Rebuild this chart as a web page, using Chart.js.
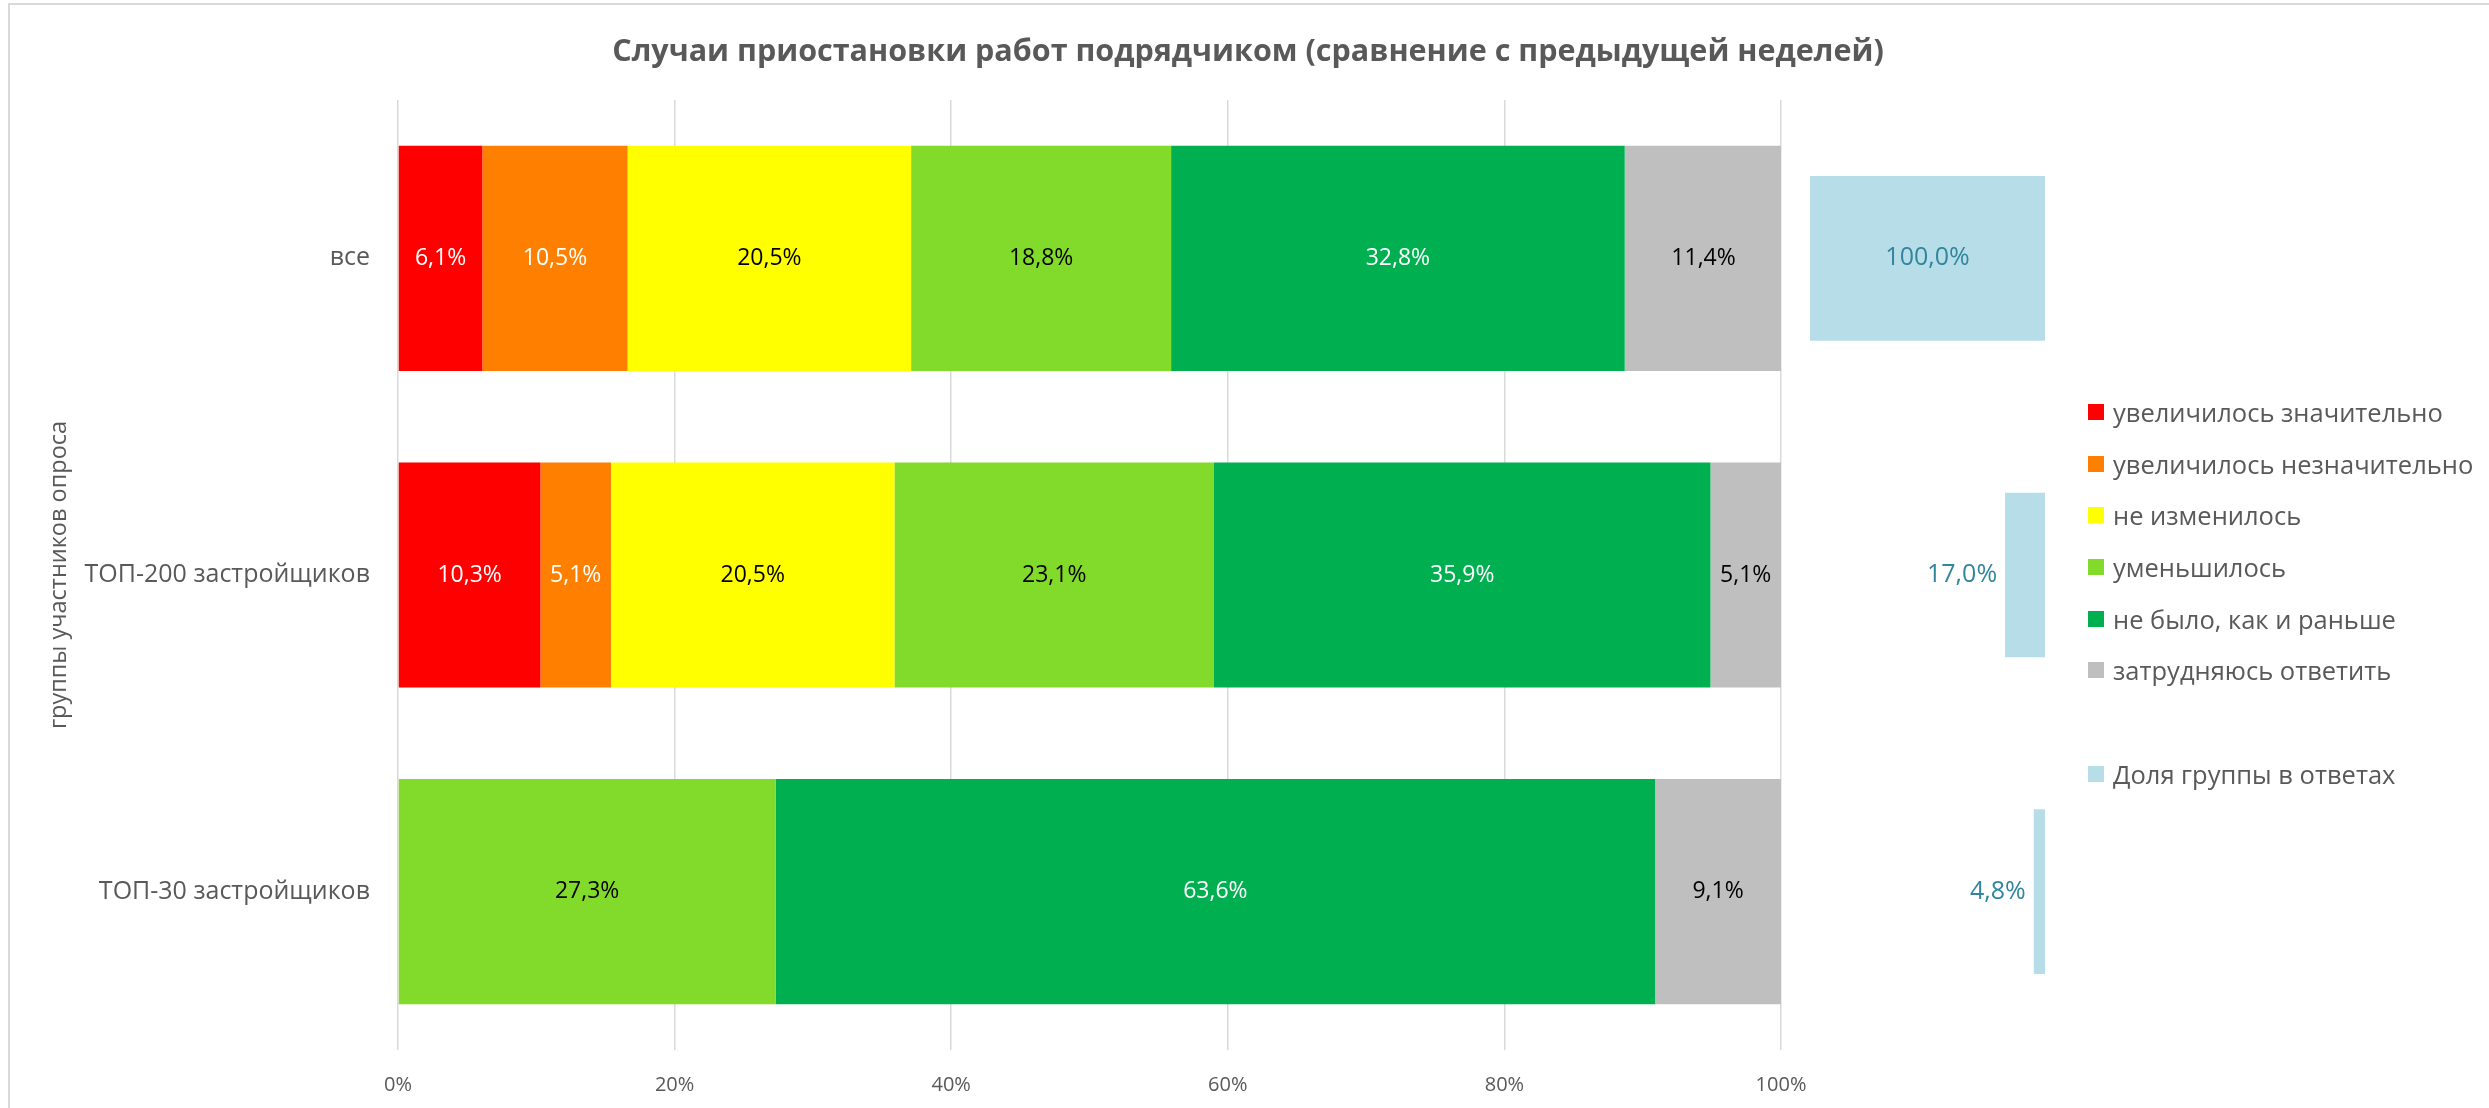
<!DOCTYPE html>
<html><head><meta charset="utf-8">
<script src="https://cdn.jsdelivr.net/npm/chart.js@4.4.1/dist/chart.umd.min.js"></script>
<style>
html,body{margin:0;padding:0;background:#fff;}
#wrap{position:relative;width:2489px;height:1108px;overflow:hidden;font-family:'Open Sans',sans-serif;background:#fff;}
#frame{position:absolute;left:8px;top:3px;width:2600px;height:1200px;border-left:2px solid #d9d9d9;border-top:2px solid #d9d9d9;}
canvas{position:absolute;left:0;top:0;}
#title{position:absolute;left:0;width:2496px;top:29px;line-height:40px;text-align:center;font-weight:700;font-size:30.5px;color:#595959;}
#legend{position:absolute;left:2088px;top:386px;}
.li{display:flex;align-items:center;height:51.7px;font-size:25.5px;color:#595959;white-space:nowrap;}
.sw{width:16px;height:16px;margin-right:9px;flex:none;}
</style></head><body>
<div id="wrap">
<div id="frame"></div>
<canvas id="c" width="2489" height="1108"></canvas>
<div id="title"></div>
<div id="legend"></div>
</div>
<script>
// ---- data ----
const titleText = 'Случаи приостановки работ подрядчиком (сравнение с предыдущей неделей)';
const axisTitle = 'группы участников опроса';
const categories = ['все', 'ТОП-200 застройщиков', 'ТОП-30 застройщиков'];
const seriesNames = ['увеличилось значительно', 'увеличилось незначительно', 'не изменилось', 'уменьшилось', 'не было, как и раньше', 'затрудняюсь ответить'];
const increasedMuch   = [6.1, 10.3, 0];
const increasedLittle = [10.5, 5.1, 0];
const unchanged       = [20.5, 20.5, 0];
const decreased       = [18.8, 23.1, 27.3];
const noneAsBefore    = [32.8, 35.9, 63.6];
const hardToSay       = [11.4, 5.1, 9.1];
const shareName = 'Доля группы в ответах';
const groupShare = [100.0, 17.0, 4.8];
const xTicks = [0, 20, 40, 60, 80, 100];

// ---- styles ----
const seriesValues = [increasedMuch, increasedLittle, unchanged, decreased, noneAsBefore, hardToSay];
const seriesColors = ['#FF0000', '#FF8000', '#FFFF00', '#82DA2A', '#00B050', '#BFBFBF'];
const labelColors  = ['#FFFFFF', '#FFFFFF', '#000000', '#000000', '#FFFFFF', '#000000'];
const shareColor = '#B7DDE8';
const shareLabelColor = '#31859C';
const textGrey = '#595959';

document.getElementById('title').textContent = titleText;

const fmt = v => v.toFixed(1).replace('.', ',') + '%';

const datasets = seriesNames.map((name, i) => ({
  label: name,
  data: seriesValues[i],
  backgroundColor: seriesColors[i],
  borderWidth: 0,
  xAxisID: 'x',
  categoryPercentage: 0.711,
  barPercentage: 1.0,
  labelColor: labelColors[i]
}));
datasets.push({
  label: shareName,
  data: groupShare,
  backgroundColor: shareColor,
  borderWidth: 0,
  xAxisID: 'x2',
  grouped: false,
  clip: false,
  categoryPercentage: 0.52,
  barPercentage: 1.0,
  isShare: true
});

const shareAxisPlugin = {
  id: 'shareAxis',
  afterLayout(chart) {
    const s = chart.scales.x2;
    s.left = 1810; s.right = 2045; s.width = 235;
    s.configure();
  }
};

const labelPlugin = {
  id: 'barLabels',
  afterDatasetsDraw(chart) {
    const ctx = chart.ctx;
    ctx.save();
    ctx.textBaseline = 'middle';
    chart.data.datasets.forEach((ds, i) => {
      const meta = chart.getDatasetMeta(i);
      meta.data.forEach((el, j) => {
        const v = ds.data[j];
        if (!v) return;
        const txt = fmt(v);
        const left = Math.min(el.x, el.base), right = Math.max(el.x, el.base);
        if (ds.isShare) {
          ctx.font = '25px "Open Sans"';
          ctx.fillStyle = shareLabelColor;
          const w = ctx.measureText(txt).width;
          if (right - left > w + 10) {
            ctx.textAlign = 'center';
            ctx.fillText(txt, (left + right) / 2, el.y);
          } else {
            ctx.textAlign = 'right';
            ctx.fillText(txt, left - 8, el.y);
          }
        } else {
          ctx.font = '23px "Open Sans"';
          ctx.fillStyle = ds.labelColor;
          ctx.textAlign = 'center';
          ctx.fillText(txt, (left + right) / 2, el.y);
        }
      });
    });
    ctx.restore();
  }
};

new Chart(document.getElementById('c'), {
  type: 'bar',
  data: { labels: categories, datasets },
  options: {
    indexAxis: 'y',
    responsive: false,
    devicePixelRatio: 1,
    animation: false,
    layout: { padding: { left: 0, right: 708, top: 100, bottom: 0 } },
    plugins: {
      legend: { display: false },
      title: { display: false },
      tooltip: { enabled: false }
    },
    scales: {
      x: {
        type: 'linear',
        stacked: true,
        min: 0, max: 100,
        afterBuildTicks: s => { s.ticks = xTicks.map(v => ({ value: v })); },
        ticks: { callback: v => v + '%', color: textGrey, font: { family: 'Open Sans', size: 20 }, padding: 23 },
        grid: { color: '#D9D9D9', lineWidth: 1.5, drawTicks: false },
        border: { display: false },
        afterFit: s => { s.height = 58; }
      },
      x2: {
        type: 'linear',
        min: 0, max: 100,
        reverse: true,
        display: false
      },
      y: {
        stacked: true,
        grid: { display: false, drawTicks: false },
        border: { display: false },
        ticks: { color: textGrey, font: { family: 'Open Sans', size: 25 }, padding: 28 },
        title: { display: true, text: axisTitle, color: textGrey, font: { family: 'Open Sans', size: 23.5 }, padding: { top: 45, bottom: 0 } },
        afterFit: s => { s.width = 398; }
      }
    }
  },
  plugins: [shareAxisPlugin, labelPlugin]
});

// ---- legend ----
const lg = document.getElementById('legend');
const items = seriesNames.map((n, i) => ({ name: n, color: seriesColors[i] }));
items.push(null);
items.push({ name: shareName, color: shareColor });
items.forEach(it => {
  const d = document.createElement('div');
  d.className = 'li';
  if (it) {
    const sw = document.createElement('span');
    sw.className = 'sw';
    sw.style.background = it.color;
    const t = document.createElement('span');
    t.textContent = it.name;
    d.appendChild(sw); d.appendChild(t);
  }
  lg.appendChild(d);
});
</script>
</body></html>
